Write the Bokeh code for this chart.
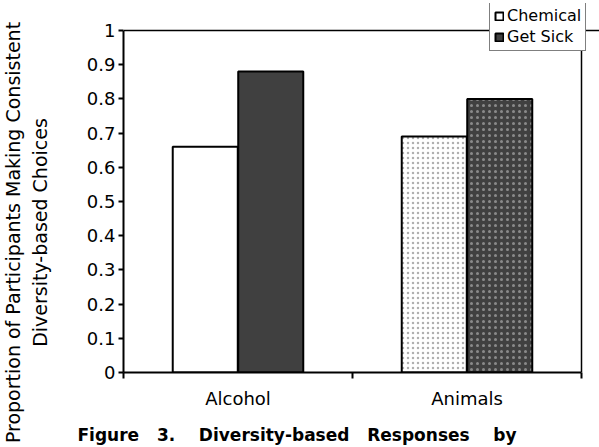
import math
from bokeh.plotting import figure
from bokeh.layouts import row, column
from bokeh.models import (FixedTicker, Range1d, Legend, LegendItem, Label,
                          ColumnDataSource, Span)
from bokeh.embed import file_html
from bokeh.resources import INLINE

# ---- data ----
categories = ["Alcohol", "Animals"]
chemical = [0.66, 0.69]
get_sick = [0.88, 0.80]
series_names = ["Chemical", "Get Sick"]
y_ticks = [0, 0.1, 0.2, 0.3, 0.4, 0.5, 0.6, 0.7, 0.8, 0.9, 1]
y_tick_labels = ["0", "0.1", "0.2", "0.3", "0.4", "0.5", "0.6", "0.7", "0.8", "0.9", "1"]
y_label_lines = ["Proportion of Participants Making Consistent", "Diversity-based Choices"]
NB = "\u00a0"
caption = "Figure" + NB * 3 + "3." + NB * 4 + "Diversity-based" + NB * 3 + "Responses" + NB * 4 + "by"

# ---- layout / styles ----
W, H = 599, 447
LAB_W = 60            # width of the y-label strip
CAP_H = 26            # height of the caption strip
FR_LEFT, FR_RIGHT, FR_TOP, FR_BOTTOM = 123, 581, 3, 372   # px in page
Y_ONE = 30            # px of y=1
LEG_LEFT, LEG_TOP, LEG_H = 489, 5, 46
CAP_LEFT = 77
BAR_W = 0.284
OFF = 0.143
hatch_per_cat = ["blank", "dot"]
FONT = "DejaVu Sans"

main_w = W - LAB_W
main_h = H - CAP_H
px_per_x = (FR_RIGHT - FR_LEFT) / 2.0
px_per_y = (FR_BOTTOM - Y_ONE) / 1.0
x_end = (W - FR_LEFT) / px_per_x
y_end = (FR_BOTTOM - FR_TOP) / px_per_y

p = figure(width=main_w, height=main_h, output_backend="svg", toolbar_location=None,
           x_range=Range1d(0, x_end), y_range=Range1d(0, y_end),
           min_border_left=FR_LEFT - LAB_W, min_border_right=0,
           min_border_top=FR_TOP, min_border_bottom=main_h - FR_BOTTOM)
p.xgrid.visible = False
p.ygrid.visible = False
p.background_fill_color = "white"
p.border_fill_color = "white"
p.outline_line_color = None

xs = [i + 0.5 for i in range(len(categories))]
src_c = ColumnDataSource(dict(x=[v - OFF for v in xs], top=chemical, hatch=hatch_per_cat))
src_g = ColumnDataSource(dict(x=[v + OFF for v in xs], top=get_sick, hatch=hatch_per_cat))

r_c = p.vbar(x="x", top="top", width=BAR_W, source=src_c, fill_color="white",
             line_color="black", line_width=2, hatch_pattern="hatch",
             hatch_color="#b0b0b0", hatch_scale=5, hatch_weight=1)
r_g = p.vbar(x="x", top="top", width=BAR_W, source=src_g, fill_color="#404040",
             line_color="black", line_width=2, hatch_pattern="hatch",
             hatch_color="#8a8a8a", hatch_scale=6, hatch_weight=1)

# plot-area border (top and right)
p.add_layout(Span(location=1, dimension="width", line_color="black", line_width=1.5))
p.add_layout(Span(location=2, dimension="height", line_color="black", line_width=1.5))

# y axis
p.yaxis.bounds = (0, 1)
p.yaxis.ticker = FixedTicker(ticks=y_ticks, minor_ticks=[])
p.yaxis.major_label_overrides = {t: l for t, l in zip(y_ticks, y_tick_labels)}
p.yaxis.axis_line_width = 2
p.yaxis.axis_line_color = "black"
p.yaxis.major_tick_line_width = 2
p.yaxis.major_tick_in = 0
p.yaxis.major_tick_out = 5
p.yaxis.major_label_text_font = FONT
p.yaxis.major_label_text_font_size = "18px"
p.yaxis.major_label_text_color = "black"
p.yaxis.major_label_standoff = 3

# x axis
p.xaxis.bounds = (0, 2)
p.xaxis.ticker = FixedTicker(ticks=xs, minor_ticks=[0, 1, 2])
p.xaxis.major_label_overrides = {x: c for x, c in zip(xs, categories)}
p.xaxis.axis_line_width = 2
p.xaxis.axis_line_color = "black"
p.xaxis.major_tick_line_color = None
p.xaxis.major_tick_out = 6
p.xaxis.minor_tick_line_width = 2
p.xaxis.minor_tick_line_color = "black"
p.xaxis.minor_tick_in = 0
p.xaxis.minor_tick_out = 6
p.xaxis.major_label_text_font = FONT
p.xaxis.major_label_text_font_size = "18px"
p.xaxis.major_label_text_color = "black"
p.xaxis.major_label_standoff = 9

legend = Legend(items=[LegendItem(label=series_names[0], renderers=[r_c], index=0),
                       LegendItem(label=series_names[1], renderers=[r_g], index=0)],
                location=(LEG_LEFT - FR_LEFT, FR_BOTTOM - LEG_TOP - LEG_H))
legend.border_line_color = "black"
legend.border_line_width = 1.5
legend.background_fill_color = "white"
legend.background_fill_alpha = 1
legend.label_text_font = FONT
legend.label_text_font_size = "16px"
legend.label_text_color = "black"
legend.glyph_width = 10
legend.glyph_height = 10
legend.label_standoff = 3
legend.padding = 4
legend.spacing = 2
legend.margin = 0
legend.label_height = 18
p.add_layout(legend, "center")

# y-label strip
lab = figure(width=LAB_W, height=H, output_backend="svg", toolbar_location=None,
             x_range=Range1d(0, LAB_W), y_range=Range1d(0, H),
             x_axis_location=None, y_axis_location=None, min_border=0)
lab.outline_line_color = None
lab.xgrid.visible = False
lab.ygrid.visible = False
label_x = [12, 39]
label_mid = H - 232
for line, lx in zip(y_label_lines, label_x):
    lab.add_layout(Label(x=lx, y=label_mid, text=line, angle=math.pi / 2,
                         text_align="center", text_baseline="middle",
                         text_font=FONT, text_font_size="19px", text_color="black"))

# caption strip
cap = figure(width=main_w, height=CAP_H, output_backend="svg", toolbar_location=None,
             x_range=Range1d(0, main_w), y_range=Range1d(0, CAP_H),
             x_axis_location=None, y_axis_location=None, min_border=0)
cap.outline_line_color = None
cap.xgrid.visible = False
cap.ygrid.visible = False
cap.add_layout(Label(x=CAP_LEFT - LAB_W, y=CAP_H / 2, text=caption, text_align="left",
                     text_baseline="middle", text_font=FONT,
                     text_font_size="17px", text_font_style="bold", text_color="black"))

layout = row(lab, column(column(p), column(cap), spacing=0), spacing=0)
open("out.html", "w").write(file_html(layout, INLINE))
